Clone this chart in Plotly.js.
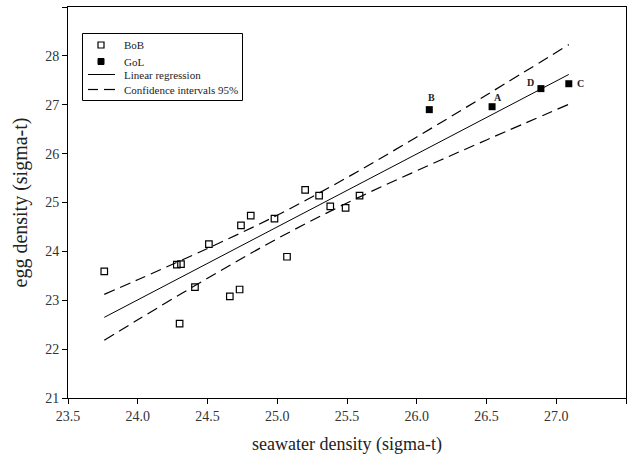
<!DOCTYPE html>
<html>
<head>
<meta charset="utf-8">
<script src="https://cdn.plot.ly/plotly-3.0.1.min.js"></script>
<style>html,body{margin:0;padding:0;background:#fff;}#chart{width:638px;height:464px;}</style>
</head>
<body>
<div id="chart"></div>
<script>
// BoB (open squares)
const bobX = [23.76, 24.28, 24.31, 24.51, 24.41, 24.66, 24.30, 24.73, 24.74, 24.81, 24.98, 25.20, 25.30, 25.38, 25.49, 25.59, 25.07];
const bobY = [23.59, 23.73, 23.74, 24.15, 23.27, 23.08, 22.52, 23.22, 24.53, 24.73, 24.67, 25.26, 25.14, 24.92, 24.89, 25.14, 23.89];
// GoL (filled squares) with labels
const golX = [26.09, 26.54, 26.89, 27.09];
const golY = [26.90, 26.96, 27.33, 27.43];
const golLabels = ["B", "A", "D", "C"];
// Linear regression
const regX = [23.76, 27.09];
const regY = [22.65, 27.62];
// 95% confidence bands
const ciX = [23.76, 24.0, 24.5, 25.0, 25.5, 26.0, 26.5, 27.09];
const ciUpper = [23.12, 23.42, 24.06, 24.74, 25.51, 26.34, 27.20, 28.23];
const ciLower = [22.18, 22.60, 23.45, 24.26, 24.99, 25.65, 26.28, 27.01];
// ticks
const xTicks = [23.5, 24.0, 24.5, 25.0, 25.5, 26.0, 26.5, 27.0, 27.5];
const yTicks = [21, 22, 23, 24, 25, 26, 27, 28, 29];
// legend entries
const legendNames = ["BoB", "GoL", "Linear regression", "Confidence intervals 95%"];

const serif = "'Liberation Serif', 'Times New Roman', serif";
const dashStyle = "11px,6px";

const W = 638, H = 464;
const M = {l: 68, r: 12, t: 7, b: 66};
const PW = W - M.l - M.r, PH = H - M.t - M.b;
const px = v => (v - M.l) / PW;          // pixel x -> paper x
const py = v => (H - M.b - v) / PH;      // pixel y -> paper y

const traces = [
  {x: bobX, y: bobY, type: "scatter", mode: "markers", name: legendNames[0],
   marker: {symbol: "square-open", size: 6.5, color: "#000", line: {width: 1.2, color: "#000"}}},
  {x: golX, y: golY, type: "scatter", mode: "markers", name: legendNames[1],
   marker: {symbol: "square", size: 7, color: "#000"}},
  {x: regX, y: regY, type: "scatter", mode: "lines", name: legendNames[2],
   line: {color: "#000", width: 1}},
  {x: ciX, y: ciUpper, type: "scatter", mode: "lines", name: legendNames[3],
   line: {color: "#000", width: 1.2, dash: dashStyle, shape: "spline"}},
  {x: ciX, y: ciLower, type: "scatter", mode: "lines", name: legendNames[3],
   line: {color: "#000", width: 1.2, dash: dashStyle, shape: "spline"}}
];

const labelOffsets = {B: [2, 12], A: [6, 9], D: [-10, 6], C: [12, 0]};
const annotations = golLabels.map((t, i) => ({
  x: golX[i], y: golY[i], xref: "x", yref: "y", text: "<b>" + t + "</b>", showarrow: false,
  xshift: labelOffsets[t][0], yshift: labelOffsets[t][1],
  font: {family: serif, size: 10, color: "#222"}
}));

// manual legend (box, symbols, texts)
const legRows = [45, 61.5, 74.5, 89.5];
const shapes = [
  {type: "rect", xref: "paper", yref: "paper", x0: px(82.5), x1: px(242.5), y0: py(33.5), y1: py(100.5),
   line: {color: "#000", width: 1}, fillcolor: "#fff", layer: "above"},
  {type: "rect", xref: "paper", yref: "paper", x0: px(98), x1: px(104), y0: py(legRows[0] - 3), y1: py(legRows[0] + 3),
   line: {color: "#000", width: 1.2}, fillcolor: "#fff", layer: "above"},
  {type: "rect", xref: "paper", yref: "paper", x0: px(98), x1: px(104), y0: py(legRows[1] - 3), y1: py(legRows[1] + 3),
   line: {color: "#000", width: 1}, fillcolor: "#000", layer: "above"},
  {type: "line", xref: "paper", yref: "paper", x0: px(88), x1: px(115), y0: py(legRows[2]), y1: py(legRows[2]),
   line: {color: "#000", width: 1}, layer: "above"},
  {type: "line", xref: "paper", yref: "paper", x0: px(88), x1: px(98), y0: py(legRows[3]), y1: py(legRows[3]),
   line: {color: "#000", width: 1.2}, layer: "above"},
  {type: "line", xref: "paper", yref: "paper", x0: px(104), x1: px(115), y0: py(legRows[3]), y1: py(legRows[3]),
   line: {color: "#000", width: 1.2}, layer: "above"}
];
legendNames.forEach((n, i) => annotations.push({
  xref: "paper", yref: "paper", x: px(122), y: py(legRows[i]), xanchor: "left", yanchor: "middle",
  text: n, showarrow: false, font: {family: serif, size: 11, color: "#222"}
}));

const layout = {
  width: W, height: H,
  margin: {l: M.l, r: M.r, t: M.t, b: M.b, pad: 0},
  paper_bgcolor: "#fff", plot_bgcolor: "#fff",
  font: {family: serif, color: "#333"},
  showlegend: false,
  xaxis: {range: [23.5, 27.5], tickvals: xTicks, ticktext: xTicks.map(v => v.toFixed(1)),
    ticks: "outside", ticklen: 5, tickcolor: "#000", showgrid: false, zeroline: false,
    showline: true, linecolor: "#000", linewidth: 1, mirror: true,
    tickfont: {family: serif, size: 14, color: "#333"},
    title: {text: "seawater density (sigma-t)", font: {family: serif, size: 18, color: "#222"}, standoff: 14}},
  yaxis: {range: [21, 29], tickvals: yTicks, ticktext: yTicks.map(String),
    ticks: "outside", ticklen: 5, tickcolor: "#000", showgrid: false, zeroline: false,
    showline: true, linecolor: "#000", linewidth: 1, mirror: true,
    tickfont: {family: serif, size: 14, color: "#333"},
    title: {text: "egg density (sigma-t)", font: {family: serif, size: 20, color: "#222"}, standoff: 12}},
  shapes: shapes,
  annotations: annotations
};

Plotly.newPlot("chart", traces, layout, {displayModeBar: false, staticPlot: true});
</script>
</body>
</html>
